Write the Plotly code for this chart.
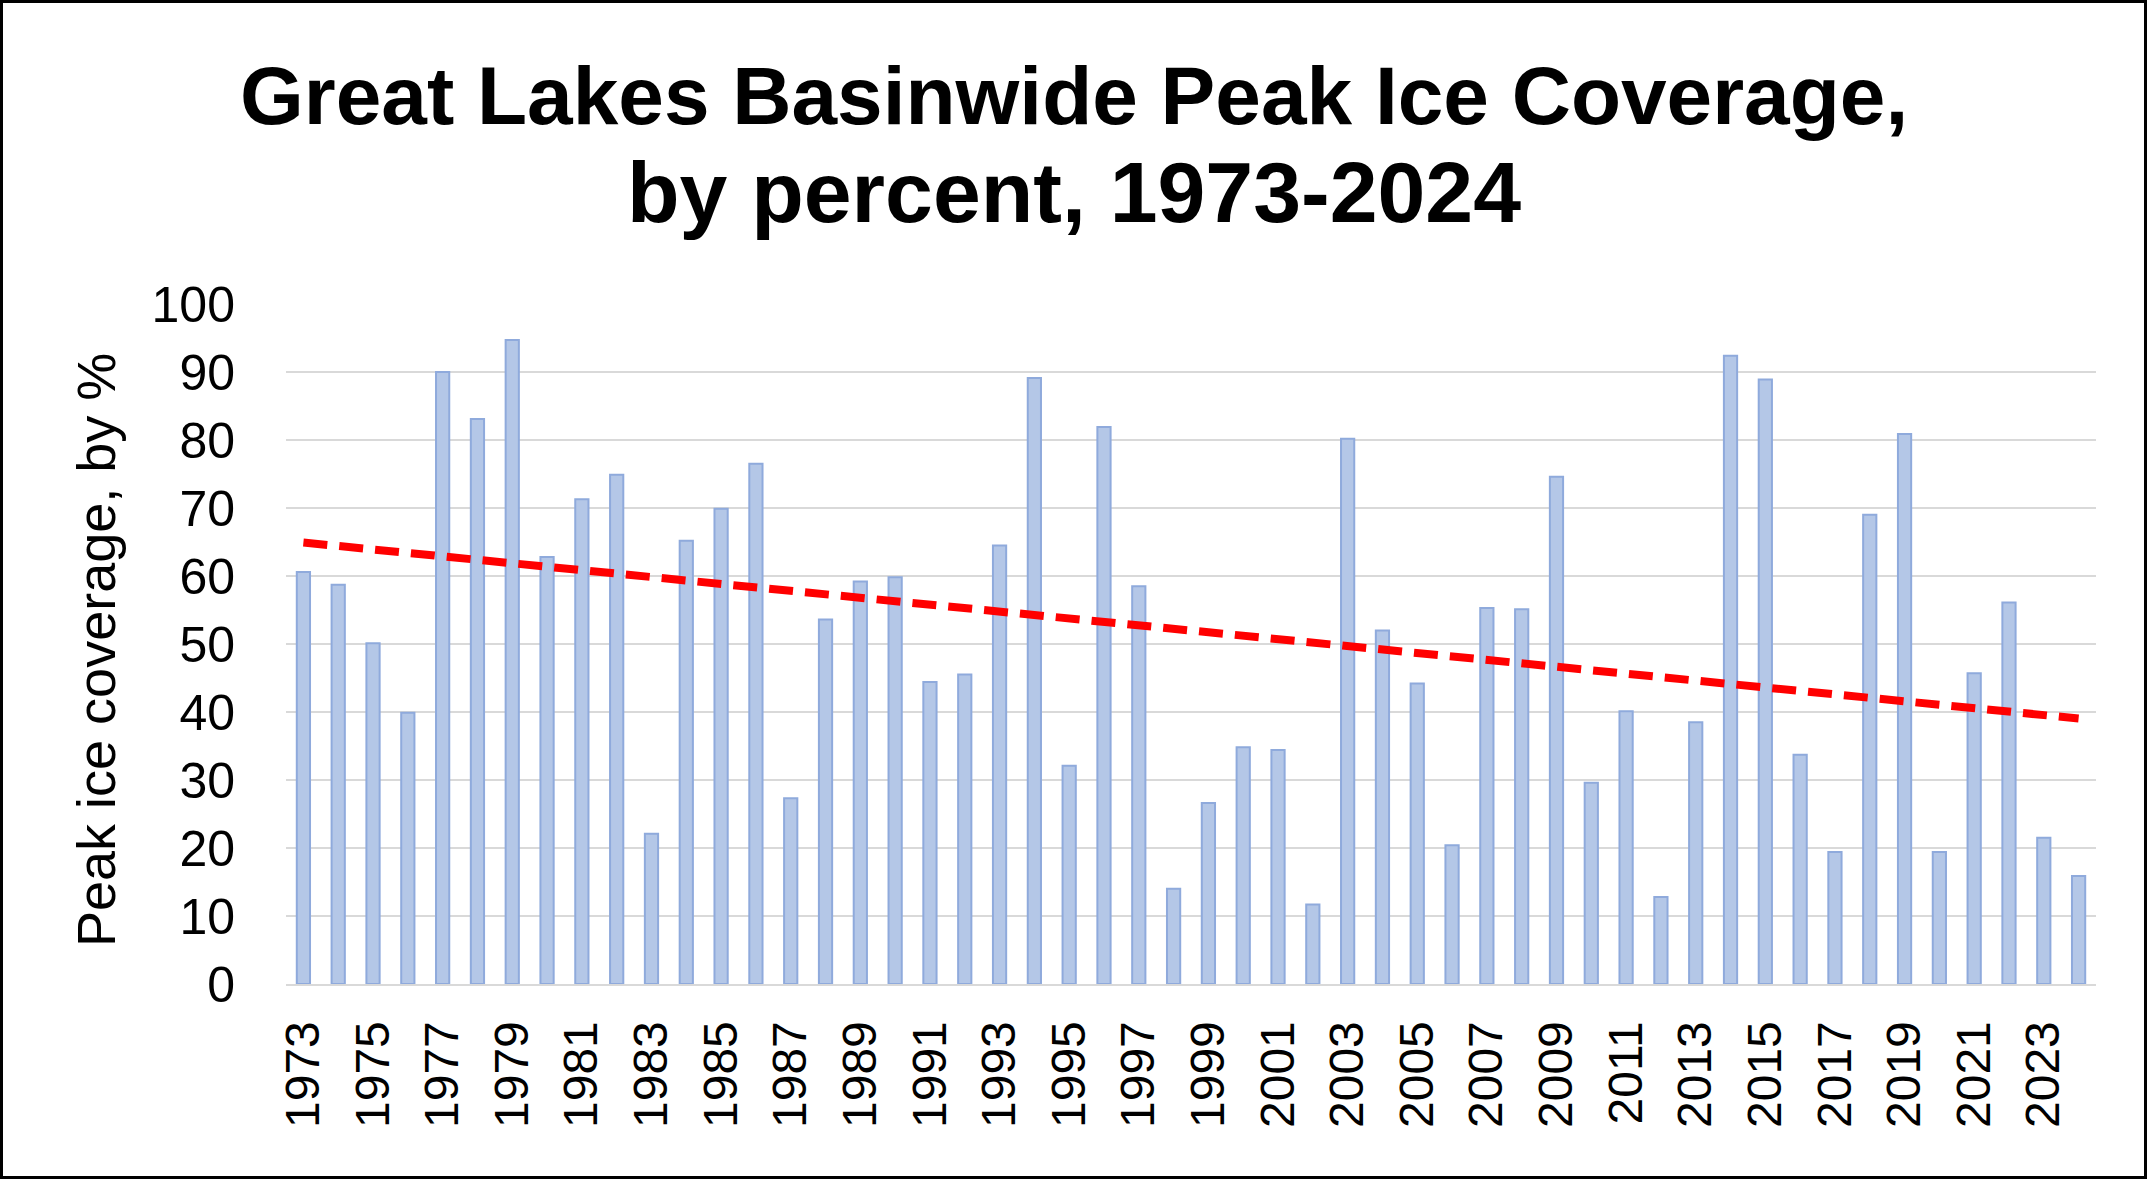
import numpy as np
import plotly.graph_objects as go

years = list(range(1973, 2025))
ice_pct = [
    60.6, 58.7, 50.1, 39.9, 90.0, 83.1, 94.7, 62.8, 71.3, 74.9,
    22.1, 65.2, 69.9, 76.5, 27.3, 53.6, 59.2, 59.8, 44.4, 45.5,
    64.5, 89.1, 32.1, 81.9, 58.5, 14.0, 26.6, 34.8, 34.4, 11.7,
    80.2, 52.0, 44.2, 20.4, 55.3, 55.1, 74.6, 29.6, 40.1, 12.8,
    38.5, 92.4, 88.9, 33.7, 19.4, 69.0, 80.9, 19.4, 45.7, 56.1,
    21.5, 15.9,
]
tick_years = [str(y) for y in years if (y - 1973) % 2 == 0]
cats = [str(y) for y in years]

title_lines = ["Great Lakes Basinwide Peak Ice Coverage,", "by percent, 1973-2024"]
y_title = "Peak ice coverage, by %"

# linear trendline (Excel-style least squares on category index)
idx = np.arange(1, len(ice_pct) + 1)
slope, intercept = np.polyfit(idx, ice_pct, 1)
trend = slope * idx + intercept

W, H = 2147, 1179
ml, mr, mt, mb = 286, 51, 304, 195
pw, ph = W - ml - mr, H - mt - mb

FONT = "Liberation Sans, Arial, sans-serif"

fig = go.Figure()
fig.add_trace(go.Bar(
    x=cats, y=ice_pct,
    marker=dict(color="#b4c7e7", line=dict(color="#8faadc", width=2)),
    width=0.38,
    showlegend=False,
))
fig.add_trace(go.Scatter(
    x=cats, y=trend, mode="lines",
    line=dict(color="#ff0000", width=8, dash="24px,12px"),
    showlegend=False,
))

fig.update_layout(
    width=W, height=H,
    margin=dict(l=ml, r=mr, t=mt, b=mb),
    paper_bgcolor="white", plot_bgcolor="white",
    font=dict(family=FONT, color="black"),
    bargap=0.6,
)
fig.update_yaxes(
    range=[0, 100], dtick=10,
    showgrid=True, gridcolor="#d9d9d9", gridwidth=2,
    zeroline=False, showline=False,
    tickfont=dict(size=50, color="black"),
    ticks="", ticklabelstandoff=50,
)
fig.update_xaxes(
    type="category",
    tickmode="array", tickvals=tick_years, ticktext=tick_years,
    tickangle=-90,
    tickfont=dict(size=48, color="black"),
    showline=True, linecolor="#d9d9d9", linewidth=2,
    showgrid=False, ticks="", ticklabelstandoff=16,
)

# title, two lines with Excel-like tight spacing
for line, mid_px, size in zip(title_lines, [95, 192], [82, 86]):
    fig.add_annotation(
        text="<b>" + line + "</b>",
        xref="paper", yref="paper",
        x=(W / 2 - ml) / pw, y=(H - mb - mid_px) / ph,
        xanchor="center", yanchor="middle",
        showarrow=False, font=dict(size=size, family=FONT, color="black"),
    )

fig.add_annotation(
    text=y_title, textangle=-90,
    xref="paper", yref="paper",
    x=(96 - ml) / pw, y=(H - mb - 650) / ph,
    xanchor="center", yanchor="middle",
    showarrow=False, font=dict(size=54, family=FONT, color="black"),
)

# outer chart border
fig.add_shape(
    type="rect", xref="paper", yref="paper",
    x0=(1.5 - ml) / pw, x1=(W - 1.5 - ml) / pw,
    y0=(1.5 - mb) / ph, y1=(H - 1.5 - mb) / ph,
    line=dict(color="black", width=3), fillcolor="rgba(0,0,0,0)",
    layer="above",
)

fig.write_html("out.html")
